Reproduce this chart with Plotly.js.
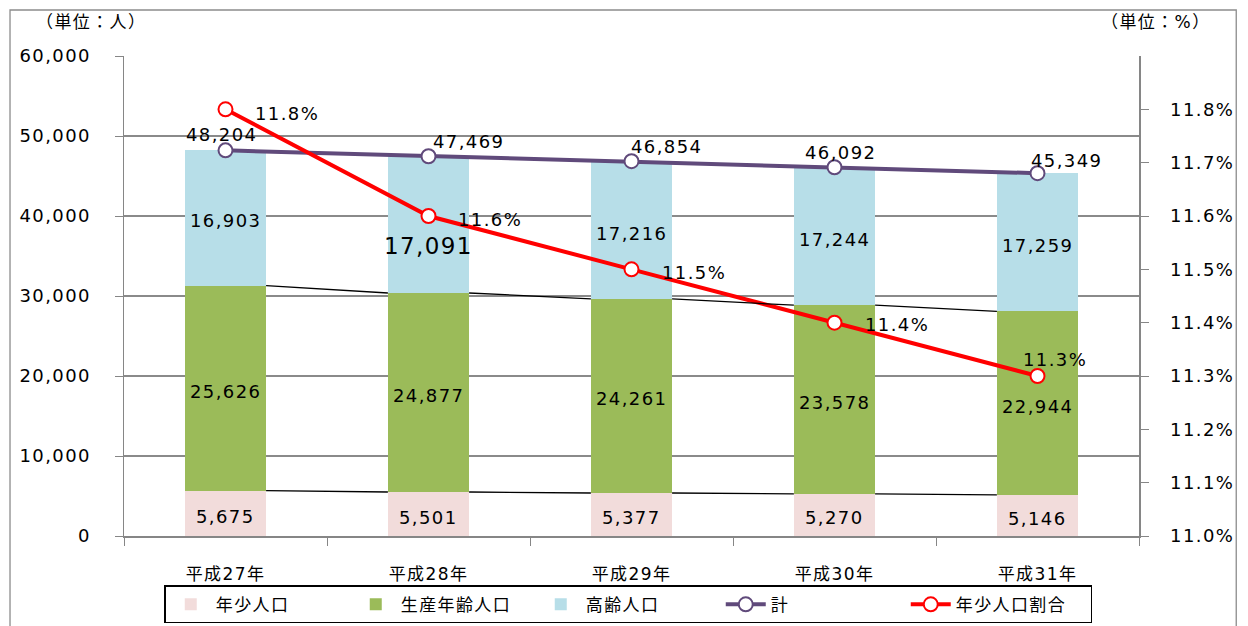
<!DOCTYPE html>
<html>
<head>
<meta charset="utf-8">
<script src="https://cdn.plot.ly/plotly-3.0.1.min.js"></script>
<style>
  html, body { margin: 0; padding: 0; background: #fff; }
  #chart { width: 1248px; height: 626px; }
  text { letter-spacing: 1.4px; }
</style>
</head>
<body>
<div id="chart"></div>
<script>
// ---- data ----
const years    = ['平成27年', '平成28年', '平成29年', '平成30年', '平成31年'];
const youth    = [5675, 5501, 5377, 5270, 5146];
const working  = [25626, 24877, 24261, 23578, 22944];
const elderly  = [16903, 17091, 17216, 17244, 17259];
const total    = [48204, 47469, 46854, 46092, 45349];
const ratio    = [11.8, 11.6, 11.5, 11.4, 11.3];
const leftTicks  = [0, 10000, 20000, 30000, 40000, 50000, 60000];
const rightTicks = [11.0, 11.1, 11.2, 11.3, 11.4, 11.5, 11.6, 11.7, 11.8];

// ---- style ----
const FONT = 'DejaVu Sans, Noto Sans CJK JP, sans-serif';
const C_YOUTH = '#F2DCDB', C_WORK = '#9BBB59', C_ELD = '#B7DEE8';
const C_TOTAL = '#604A7B', C_RATIO = '#FF0000';
const BARW = 0.4;
const totalShift = [[-4, 16], [40, 15], [35, 15], [6, 15], [29, 13]];
const ratioShift = [[61, -4], [61, -3], [62, -3], [62, -2], [17, 17]];
const fmt = v => v.toLocaleString('en-US');

const idx = years.map((_, i) => i);
const lvl1 = youth;
const lvl2 = youth.map((v, i) => v + working[i]);
function seriesLine(level) {
  const xs = [], ys = [];
  for (let i = 0; i < level.length - 1; i++) {
    xs.push(i + BARW / 2, i + 1 - BARW / 2, null);
    ys.push(level[i], level[i + 1], null);
  }
  return { x: xs, y: ys };
}
const s1 = seriesLine(lvl1), s2 = seriesLine(lvl2);

const traces = [
  { type: 'bar', name: '年少人口', x: years, y: youth, marker: { color: C_YOUTH }, width: BARW, hoverinfo: 'skip' },
  { type: 'bar', name: '生産年齢人口', x: years, y: working, marker: { color: C_WORK }, width: BARW, hoverinfo: 'skip' },
  { type: 'bar', name: '高齢人口', x: years, y: elderly, marker: { color: C_ELD }, width: BARW, hoverinfo: 'skip' },
  { type: 'scatter', mode: 'lines', x: s1.x, y: s1.y, xaxis: 'x2', yaxis: 'y', line: { color: '#000', width: 1.3 }, showlegend: false, hoverinfo: 'skip' },
  { type: 'scatter', mode: 'lines', x: s2.x, y: s2.y, xaxis: 'x2', yaxis: 'y', line: { color: '#000', width: 1.3 }, showlegend: false, hoverinfo: 'skip' },
  { type: 'scatter', mode: 'lines+markers', name: '計', x: years, y: total,
    line: { color: C_TOTAL, width: 4 },
    marker: { size: 14, color: '#fff', line: { color: C_TOTAL, width: 2 } } },
  { type: 'scatter', mode: 'lines+markers', name: '年少人口割合', x: years, y: ratio, yaxis: 'y2',
    line: { color: C_RATIO, width: 4 },
    marker: { size: 14, color: '#fff', line: { color: C_RATIO, width: 2 } } }
];

const annotations = [];
idx.forEach(i => {
  annotations.push({ x: years[i], y: youth[i] / 2, xref: 'x', yref: 'y', text: fmt(youth[i]), showarrow: false, font: { family: FONT, size: 18, color: '#000' }, yshift: -3 });
  annotations.push({ x: years[i], y: lvl1[i] + working[i] / 2, xref: 'x', yref: 'y', text: fmt(working[i]), showarrow: false, font: { family: FONT, size: 18, color: '#000' }, yshift: -3 });
  const big = i === 1;
  annotations.push({ x: years[i], y: lvl2[i] + elderly[i] / 2, xref: 'x', yref: 'y', text: fmt(elderly[i]), showarrow: false, font: { family: FONT, size: big ? 23 : 18, color: '#000' }, yshift: big ? -21 : -3 });
  annotations.push({ x: years[i], y: total[i], xref: 'x', yref: 'y', text: fmt(total[i]), showarrow: false, font: { family: FONT, size: 18, color: '#000' }, xshift: totalShift[i][0], yshift: totalShift[i][1] });
  annotations.push({ x: years[i], y: ratio[i], xref: 'x', yref: 'y2', text: ratio[i].toFixed(1) + '%', showarrow: false, font: { family: FONT, size: 18, color: '#000' }, xshift: ratioShift[i][0], yshift: ratioShift[i][1] });
});
annotations.push({ xref: 'paper', yref: 'paper', x: -0.089, y: 1.071, xanchor: 'left', yanchor: 'middle', text: '（単位：人）', showarrow: false, font: { family: FONT, size: 17, color: '#000' } });
annotations.push({ xref: 'paper', yref: 'paper', x: 1.073, y: 1.071, xanchor: 'right', yanchor: 'middle', text: '（単位：%）', showarrow: false, font: { family: FONT, size: 17, color: '#000' } });

const layout = {
  width: 1248, height: 626,
  margin: { l: 124, r: 109, t: 56, b: 90, autoexpand: false },
  paper_bgcolor: '#fff', plot_bgcolor: '#fff',
  barmode: 'stack',
  font: { family: FONT, size: 17, color: '#000' },
  showlegend: true,
  legend: {
    orientation: 'h', x: 0.497, xanchor: 'center', y: -0.103, yanchor: 'top',
    bordercolor: '#000', borderwidth: 1.3, font: { family: FONT, size: 17, color: '#000' },
    traceorder: 'normal', itemwidth: 40, entrywidth: 130, entrywidthmode: 'pixels'
  },
  xaxis: {
    type: 'category', tickson: 'boundaries', ticks: 'outside', ticklen: 8, tickcolor: '#868686',
    showline: true, linecolor: '#868686', linewidth: 1.5, showgrid: false, automargin: false,
    tickfont: { family: FONT, size: 17 }, ticklabelstandoff: 22, range: [-0.5, 4.5]
  },
  xaxis2: { overlaying: 'x', range: [-0.5, 4.5], visible: false },
  yaxis: {
    range: [0, 60000], tickvals: leftTicks, ticktext: leftTicks.map(fmt), automargin: false,
    ticks: 'outside', ticklen: 8, tickcolor: '#868686',
    showline: true, linecolor: '#868686', linewidth: 1.5,
    showgrid: true, gridcolor: '#8a8a8a', gridwidth: 1.3, zeroline: false,
    tickfont: { family: FONT, size: 18 }, ticklabelstandoff: 20
  },
  yaxis2: {
    overlaying: 'y', side: 'right', range: [11.0, 11.9], tickvals: rightTicks, automargin: false,
    ticktext: rightTicks.map(v => v.toFixed(1) + '%'),
    ticks: 'outside', ticklen: 8, tickcolor: '#868686',
    showline: true, linecolor: '#868686', linewidth: 1.5, showgrid: false, zeroline: false,
    tickfont: { family: FONT, size: 18 }, ticklabelstandoff: 18
  },
  annotations: annotations,
  shapes: [
    { type: 'rect', xref: 'paper', yref: 'paper', x0: -0.1123, x1: 1.0958, y0: -0.2, y1: 1.0958,
      line: { color: '#8c8c8c', width: 1.3 }, fillcolor: 'rgba(0,0,0,0)', layer: 'below' }
  ]
};

Plotly.newPlot('chart', traces, layout, { staticPlot: true, displayModeBar: false });
</script>
</body>
</html>
